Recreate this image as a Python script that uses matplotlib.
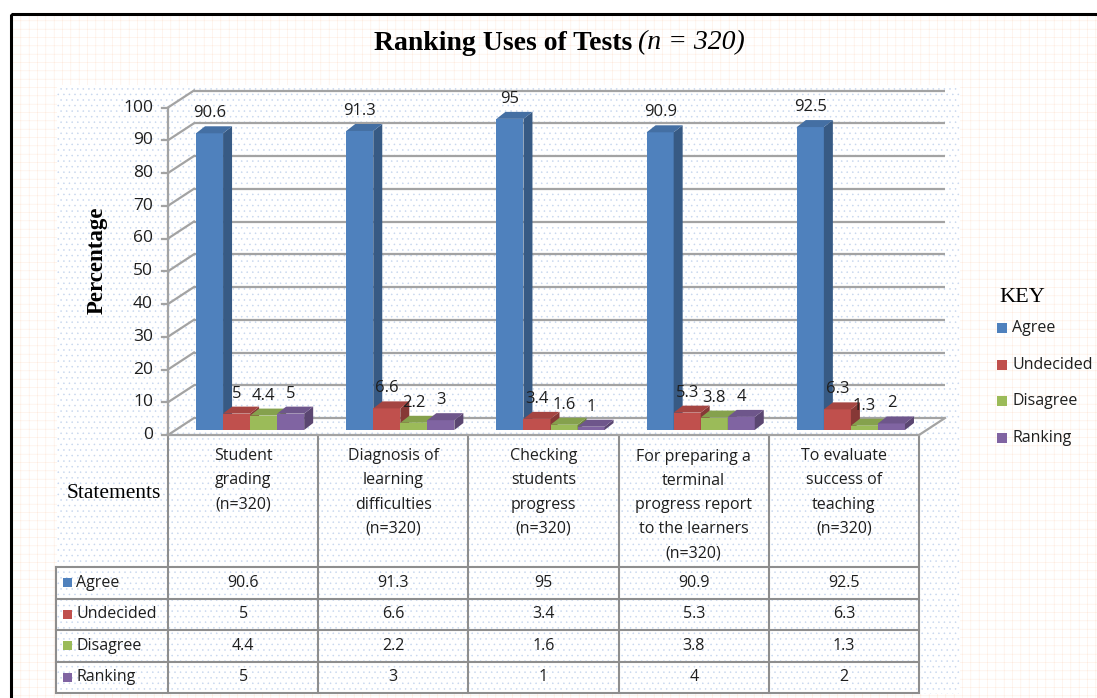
import matplotlib
matplotlib.use("Agg")
import matplotlib.pyplot as plt
from matplotlib.patches import Rectangle, Polygon
from matplotlib.transforms import Affine2D, IdentityTransform
import numpy as np

# ---------------- data ----------------
categories = [
    "Student\ngrading\n(n=320)",
    "Diagnosis of\nlearning\ndifficulties\n(n=320)",
    "Checking\nstudents\nprogress\n(n=320)",
    "For preparing a\nterminal\nprogress report\nto the learners\n(n=320)",
    "To evaluate\nsuccess of\nteaching\n(n=320)",
]
series_names = ["Agree", "Undecided", "Disagree", "Ranking"]
agree = [90.6, 91.3, 95, 90.9, 92.5]
undecided = [5, 6.6, 3.4, 5.3, 6.3]
disagree = [4.4, 2.2, 1.6, 3.8, 1.3]
ranking = [5, 3, 1, 4, 2]
y_ticks = [0, 10, 20, 30, 40, 50, 60, 70, 80, 90, 100]
title_main = "Ranking Uses of Tests"
title_n = "(n = 320)"
y_label = "Percentage"
x_label = "Statements"
legend_title = "KEY"

series = [agree, undecided, disagree, ranking]
colors = ["#4F81BD", "#C0504D", "#9BBB59", "#8064A2"]

SANS = ["Open Sans", "DejaVu Sans"]
SERIF = ["Liberation Serif", "DejaVu Serif"]
TXT = "#1e1e1e"
GRID = "#a3a3a3"
TABLE = "#8e8e8e"

plt.rcParams["hatch.linewidth"] = 0.35

W, H = 1097, 698
fig = plt.figure(figsize=(W / 100, H / 100), dpi=100)

# background / decoration axes in pixel coordinates
bg = fig.add_axes([0, 0, 1, 1])
bg.set_xlim(0, W)
bg.set_ylim(H, 0)
bg.axis("off")
bg.add_patch(Rectangle((11, 14), W, H, facecolor="white", edgecolor="#fdeadd",
                       hatch="++", lw=0, zorder=0))
bg.add_patch(Rectangle((57, 85), 903, 609, facecolor="white", edgecolor="#c6d6ee",
                       hatch="...", lw=0, zorder=0.5))
bg.add_patch(Rectangle((11, 14), W, H, facecolor="none", edgecolor="black",
                       lw=2.2, zorder=1))

# main (front-plane) axes
x0, x1 = 168, 919
y0, y100 = 435, 107.5
ax = fig.add_axes([x0 / W, (H - y0) / H, (x1 - x0) / W, (y0 - y100) / H])
ax.set_xlim(-0.5, len(categories) - 0.5)
ax.set_ylim(0, 100)
ax.axis("off")

DX, DY = 26, 17          # wall depth (pixels)
back = ax.transData + Affine2D().translate(DX, DY)
mid = ax.transData + Affine2D().translate(7, 5)
ident = IdentityTransform()
xmin, xmax = -0.5, len(categories) - 0.5

# back wall gridlines + left wall diagonals + ticks
for v in y_ticks:
    ax.plot([xmin, xmax], [v, v], transform=back, color=GRID, lw=1.6,
            clip_on=False, zorder=1, solid_capstyle="butt")
    px, py = ax.transData.transform((xmin, v))
    ax.plot([px, px + DX], [py, py + DY], transform=ident, color=GRID, lw=1.6,
            clip_on=False, zorder=1)
    ax.plot([px - 6, px], [py, py], transform=ident, color=GRID, lw=1.6,
            clip_on=False, zorder=1)
    ax.annotate(str(v), xy=(xmin, v), xycoords="data", xytext=(-15, 0),
                textcoords="offset pixels", ha="right", va="center",
                fontsize=12.5, family=SANS, color=TXT, annotation_clip=False)

# front axis line and floor edges
ax.plot([xmin, xmin], [0, 100], color=GRID, lw=1.6, clip_on=False, zorder=1)
ax.plot([xmin, xmax], [0, 0], color=GRID, lw=1.6, clip_on=False, zorder=1)
rx, ry = ax.transData.transform((xmax, 0))
ax.plot([rx, rx + DX], [ry, ry + DY], transform=ident, color=GRID, lw=1.6,
        clip_on=False, zorder=1)

# 3-D bars
bw = 0.18
BD = (9, 7)
n_s = len(series)
for j, (vals, col) in enumerate(zip(series, colors)):
    rgb = np.array(matplotlib.colors.to_rgb(col))
    side = tuple(rgb * 0.70)
    top = tuple(rgb * 0.86)
    xs = np.arange(len(categories)) - n_s * bw / 2 + j * bw + bw / 2
    ax.bar(xs, vals, width=bw, color=col, transform=mid, clip_on=False,
           zorder=3 + j, linewidth=0)
    for xc, v in zip(xs, vals):
        (xl, yb), (xr, yt) = mid.transform([(xc - bw / 2, 0), (xc + bw / 2, v)])
        ax.add_patch(Polygon([(xr, yb), (xr + BD[0], yb + BD[1]),
                              (xr + BD[0], yt + BD[1]), (xr, yt)],
                             closed=True, facecolor=side, lw=0,
                             transform=ident, clip_on=False, zorder=3 + j))
        ax.add_patch(Polygon([(xl, yt), (xl + BD[0], yt + BD[1]),
                              (xr + BD[0], yt + BD[1]), (xr, yt)],
                             closed=True, facecolor=top, lw=0,
                             transform=ident, clip_on=False, zorder=3 + j))
        ax.annotate(f"{v:g}", xy=(xc, v), xycoords=mid, xytext=(0, 20),
                    textcoords="offset pixels", ha="center", va="center",
                    fontsize=12, family=SANS, color=TXT, zorder=10,
                    annotation_clip=False)

# ---------------- data table ----------------
def xpix(xd):
    return ax.transData.transform((xd, 0))[0]

bounds = [xpix(k - 0.5) for k in range(len(categories) + 1)]
row_lines = [567, 598.5, 630, 661.5, 693]
tab_left = 56
for bx in bounds:
    bg.plot([bx, bx], [y0, row_lines[-1]], color=TABLE, lw=1.5, zorder=2)
bg.plot([tab_left, tab_left], [row_lines[0], row_lines[-1]], color=TABLE, lw=1.5, zorder=2)
for ry_ in row_lines:
    bg.plot([tab_left, bounds[-1]], [ry_, ry_], color=TABLE, lw=1.5, zorder=2)

# category labels in header area
for i, lab in enumerate(categories):
    nlines = lab.count("\n") + 1
    cy = 455 + (nlines - 1) * 25 / 2
    bg.text(xpix(i), cy, lab, ha="center", va="center", fontsize=11.5,
            family=SANS, color=TXT, linespacing=1.68, zorder=3)

# table rows
for r, (name, vals, col) in enumerate(zip(series_names, series, colors)):
    cy = (row_lines[r] + row_lines[r + 1]) / 2
    bg.add_patch(Rectangle((63, cy - 4.5), 9, 9, facecolor=col, lw=0, zorder=3))
    bg.text(76, cy, name, ha="left", va="center", fontsize=11.5, family=SANS,
            color=TXT, zorder=3)
    for i, v in enumerate(vals):
        bg.text(xpix(i), cy, f"{v:g}", ha="center", va="center", fontsize=11.5,
                family=SANS, color=TXT, zorder=3)

# ---------------- titles ----------------
bg.text(632, 43, title_main, ha="right", va="center", fontsize=20,
        fontweight="bold", family=SERIF, color="black", zorder=3)
bg.text(638, 43, title_n, ha="left", va="center", fontsize=20,
        fontstyle="italic", family=SERIF, color="black", zorder=3)
bg.text(97, 260, y_label, ha="center", va="center", rotation=90, fontsize=16.5,
        fontweight="bold", family=SERIF, color="black", zorder=3)
bg.text(114, 493, x_label, ha="center", va="center", fontsize=15.5,
        family=SERIF, color="black", zorder=3)

# ---------------- legend (KEY) ----------------
bg.text(999, 297, legend_title, ha="left", va="center", fontsize=16,
        family=SERIF, color="black", zorder=3)
for k, (name, col) in enumerate(zip(series_names, colors)):
    cy = 328 + k * 36.7
    bg.add_patch(Rectangle((997, cy - 5), 10, 10, facecolor=col, lw=0, zorder=3))
    bg.text(1012, cy, name, ha="left", va="center", fontsize=11.5, family=SANS,
            color=TXT, zorder=3)

fig.savefig("out.png", dpi=100)
